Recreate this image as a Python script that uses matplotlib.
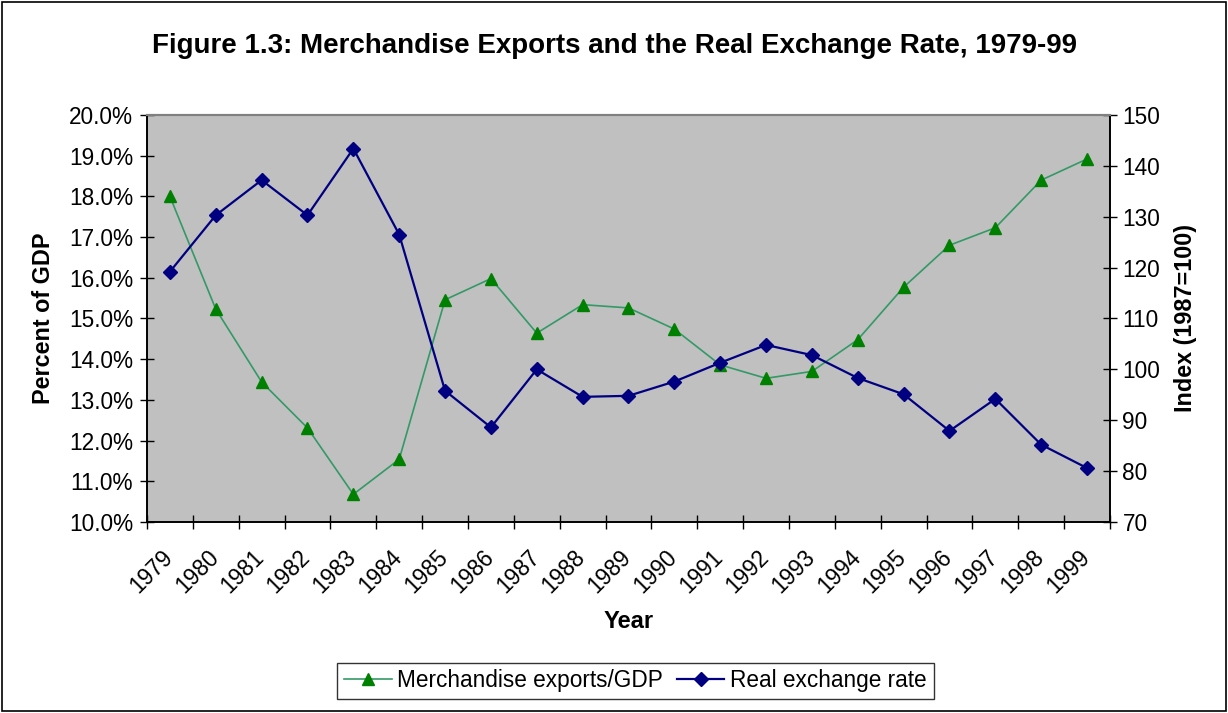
import matplotlib
matplotlib.use("Agg")
import matplotlib.pyplot as plt
from matplotlib.patches import Rectangle
from matplotlib.ticker import FixedLocator, FuncFormatter
from matplotlib.transforms import ScaledTranslation

plt.rcParams['font.family'] = ['Liberation Sans', 'DejaVu Sans']

years = [str(y) for y in range(1979, 2000)]
exports_gdp = [18.0, 15.23, 13.44, 12.31, 10.68, 11.54, 15.46, 15.98, 14.64, 15.34,
               15.26, 14.74, 13.86, 13.53, 13.70, 14.48, 15.77, 16.80, 17.23, 18.40, 18.92]
real_exchange_rate = [119.2, 130.3, 137.2, 130.3, 143.4, 126.5, 95.8, 88.6, 100.0, 94.6,
                      94.8, 97.6, 101.3, 104.8, 102.8, 98.3, 95.1, 87.9, 94.2, 85.2, 80.6]

fig = plt.figure(figsize=(12.28, 7.13), dpi=100)
fig.patch.set_facecolor('white')
fig.patches.append(Rectangle((0.0015, 0.0035), 0.997, 0.993, transform=fig.transFigure,
                             fill=False, edgecolor='black', linewidth=1.2))

ax = fig.add_axes([0.1197, 0.2679, 0.9039 - 0.1197, 0.8387 - 0.2679])
ax.set_facecolor('#C0C0C0')
ax2 = ax.twinx()

x = list(range(len(years)))
l1, = ax.plot(x, exports_gdp, color='#339966', linewidth=1.2, marker='^',
              markersize=9, markerfacecolor='#008000', markeredgecolor='#008000',
              label='Merchandise exports/GDP')
l2, = ax2.plot(x, real_exchange_rate, color='#000080', linewidth=1.6, marker='D',
               markersize=7, markerfacecolor='#000080', markeredgecolor='#000080',
               label='Real exchange rate')

ax.set_xlim(-0.5, len(years) - 0.5)
ax.set_ylim(10, 20)
ax2.set_ylim(70, 150)
ax.set_yticks([10 + i for i in range(11)])
ax.yaxis.set_major_formatter(FuncFormatter(lambda v, p: f"{v:.1f}%"))
ax2.set_yticks(list(range(70, 151, 10)))

# category boundaries carry the tick marks, centres carry the labels
ax.xaxis.set_major_locator(FixedLocator([i - 0.5 for i in range(len(years) + 1)]))
ax.xaxis.set_major_formatter(FuncFormatter(lambda v, p: ''))
ax.xaxis.set_minor_locator(FixedLocator(x))
ax.set_xticklabels(years, minor=True, rotation=45, ha='right', va='top',
                   rotation_mode='anchor')
ax.tick_params(axis='x', which='minor', length=0, pad=17, labelsize=16.3)
ax.tick_params(axis='x', which='major', direction='inout', length=10.5, width=1)
ax.tick_params(axis='y', direction='inout', length=10, width=1, labelsize=16.3, pad=5)
ax2.tick_params(axis='y', direction='inout', length=10, width=1, labelsize=16.3, pad=4)

for a in (ax, ax2):
    for side in ('left', 'right', 'bottom'):
        a.spines[side].set_color('black')
        a.spines[side].set_linewidth(1.2)
    a.spines['top'].set_color('#808080')
    a.spines['top'].set_linewidth(1.5)

ax.set_ylabel('Percent of GDP', fontsize=16.8, fontweight='bold', labelpad=10)
ax2.set_ylabel('Index (1987=100)', fontsize=16.8, fontweight='bold', labelpad=10)
ax.set_xlabel('Year', fontsize=17, fontweight='bold', labelpad=9)

fig.text(0.5, 0.935, 'Figure 1.3: Merchandise Exports and the Real Exchange Rate, 1979-99',
         ha='center', va='center', fontsize=20, fontweight='bold')

leg = fig.legend([l1, l2], ['Merchandise exports/GDP', 'Real exchange rate'],
                 loc='center', bbox_to_anchor=(0.5175, 0.045), ncol=2, fontsize=16.3,
                 frameon=True, fancybox=False, edgecolor='black', handlelength=2.1,
                 handletextpad=0.25, columnspacing=0.6, borderpad=0.3,
                 borderaxespad=0)
leg.get_frame().set_linewidth(1.0)

# nudge the rotated year labels so their ends sit just left of each category centre
fig.canvas.draw()
shift = ScaledTranslation(-9 / 100, 0, fig.dpi_scale_trans)
for tick in ax.xaxis.get_minor_ticks():
    tick.label1.set_transform(tick.label1.get_transform() + shift)

fig.savefig('out.png', dpi=100, facecolor='white')
